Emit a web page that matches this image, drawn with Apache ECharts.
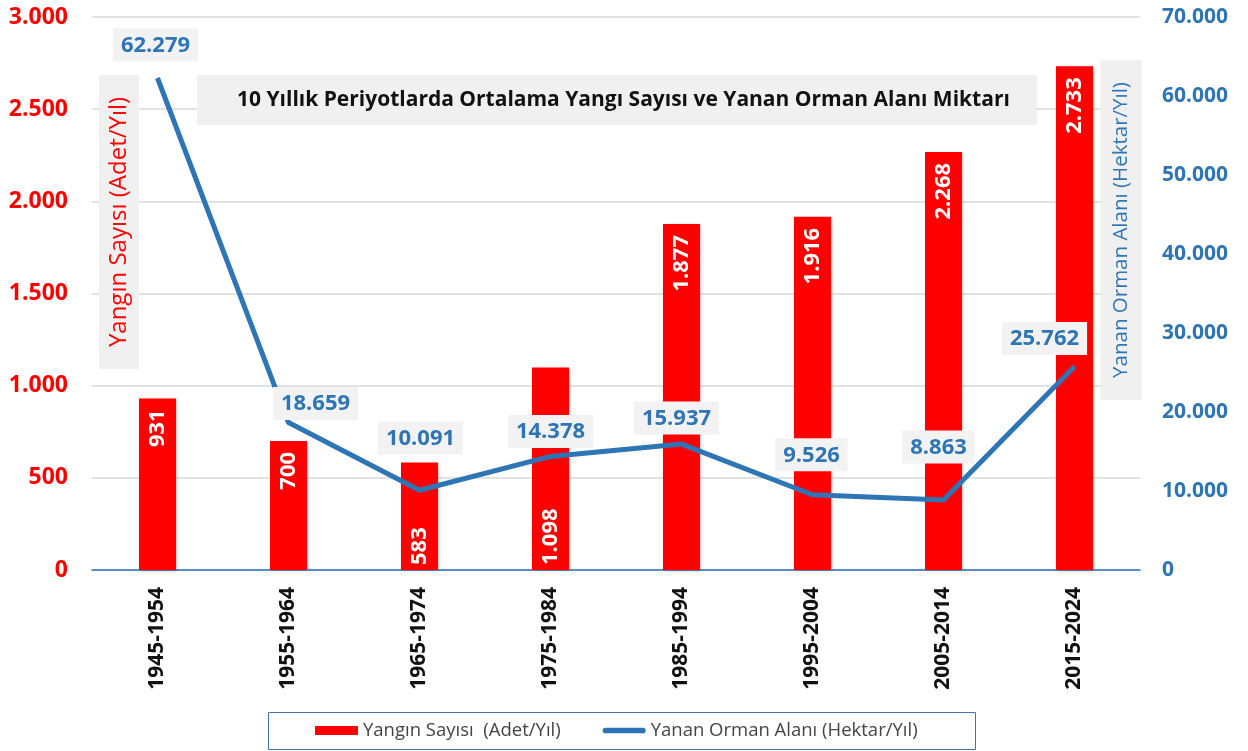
<!DOCTYPE html>
<html>
<head>
<meta charset="utf-8">
<script src="https://cdn.jsdelivr.net/npm/echarts@6/dist/echarts.min.js"></script>
<style>
  html, body { margin: 0; padding: 0; background: #fff; }
  #main { width: 1248px; height: 751px; }
</style>
</head>
<body>
<div id="main"></div>
<script>
// periods
var periods = ['1945-1954', '1955-1964', '1965-1974', '1975-1984', '1985-1994', '1995-2004', '2005-2014', '2015-2024'];
// Yangın Sayısı (Adet/Yıl)
var fireCounts = [931, 700, 583, 1098, 1877, 1916, 2268, 2733];
// Yanan Orman Alanı (Hektar/Yıl)
var burnedArea = [62279, 18659, 10091, 14378, 15937, 9526, 8863, 25762];

var leftTicks = { min: 0, max: 3000, interval: 500 };
var rightTicks = { min: 0, max: 70000, interval: 10000 };

var RED = '#ff0000';
var BLUE = '#2e75b6';
var FONT = '"Open Sans", Lato, sans-serif';

// 1.234 seklinde yaz
function fmt(v) {
    return String(Math.round(v)).replace(/\B(?=(\d{3})+(?!\d))/g, '.');
}

var chart = echarts.init(document.getElementById('main'));

// bar etiketleri: ikisi altta duruyor
var barData = fireCounts.map(function (v, i) {
    var item = { value: v };
    if (i === 2 || i === 3) {
        item.label = { position: 'insideBottom', align: 'left', distance: 5 };
    }
    return item;
});

// cizgi etiketleri icin kucuk kaydirmalar
var lineOffsets = { 0: [-2, 0], 1: [27, 14], 2: [1, -19], 3: [0, 8], 4: [-5, 7], 5: [-1, -7], 6: [-5, -20], 7: [-30, 5] };
var lineData = burnedArea.map(function (v, i) {
    var item = { value: v };
    if (lineOffsets[i]) {
        item.label = { offset: lineOffsets[i] };
    }
    return item;
});

var option = {
    backgroundColor: '#fff',
    animation: false,
    textStyle: { fontFamily: FONT },
    title: {
        text: '10 Yıllık Periyotlarda Ortalama Yangı Sayısı ve Yanan Orman Alanı Miktarı',
        left: 197,
        top: 75,
        backgroundColor: '#f0f0f0',
        padding: [13, 27, 13, 40],
        textStyle: { fontFamily: FONT, fontSize: 21, fontWeight: 'bold', color: '#111', lineHeight: 24 }
    },
    legend: {
        left: 315,
        top: 721,
        padding: 0,
        itemGap: 42,
        itemWidth: 43,
        itemHeight: 9,
        textStyle: { fontFamily: FONT, fontSize: 18.5, color: '#444' },
        data: [
            { name: 'Yangın Sayısı  (Adet/Yıl)', icon: 'rect' },
            {
                name: 'Yanan Orman Alanı (Hektar/Yıl)',
                icon: 'path://M3,0 L42,0 A3,3 0 0 1 42,6 L3,6 A3,3 0 0 1 3,0 Z',
                itemStyle: { color: BLUE }
            }
        ]
    },
    grid: { left: 92, right: 108, top: 17, bottom: 181 },
    xAxis: {
        type: 'category',
        data: periods,
        axisLine: { lineStyle: { color: BLUE, width: 1.5 } },
        axisTick: { show: false },
        axisLabel: {
            rotate: 90,
            margin: 17,
            fontFamily: FONT,
            fontSize: 21,
            fontWeight: 'bold',
            color: '#111',
            interval: 0
        }
    },
    yAxis: [
        {
            type: 'value',
            min: leftTicks.min,
            max: leftTicks.max,
            interval: leftTicks.interval,
            axisLine: { show: false },
            axisTick: { show: false },
            splitLine: { lineStyle: { color: '#d9d9d9', width: 1.5 } },
            axisLabel: {
                margin: 24,
                fontFamily: FONT,
                fontSize: 23,
                fontWeight: 'bold',
                color: RED,
                formatter: fmt
            }
        },
        {
            type: 'value',
            min: rightTicks.min,
            max: rightTicks.max,
            interval: rightTicks.interval,
            axisLine: { show: false },
            axisTick: { show: false },
            splitLine: { show: false },
            axisLabel: {
                margin: 22,
                fontFamily: FONT,
                fontSize: 21,
                fontWeight: 'bold',
                color: BLUE,
                formatter: fmt
            }
        }
    ],
    graphic: [
        {
            type: 'rect',
            shape: { x: 268.5, y: 712.5, width: 707, height: 37 },
            style: { fill: 'none', stroke: '#4a6fa5', lineWidth: 1 }
        },
        {
            type: 'text',
            x: 119,
            y: 222,
            rotation: Math.PI / 2,
            z: 10,
            style: {
                text: 'Yangın Sayısı (Adet/Yıl)',
                fill: RED,
                font: '24px ' + FONT,
                align: 'center',
                verticalAlign: 'middle',
                backgroundColor: '#f0f0f0',
                padding: [8, 22, 8, 22]
            }
        },
        {
            type: 'text',
            x: 1121,
            y: 230,
            rotation: Math.PI / 2,
            z: 10,
            style: {
                text: 'Yanan Orman Alanı (Hektar/Yıl)',
                fill: BLUE,
                font: '20.5px ' + FONT,
                align: 'center',
                verticalAlign: 'middle',
                backgroundColor: '#f0f0f0',
                padding: [10, 22, 10, 22]
            }
        }
    ],
    series: [
        {
            name: 'Yangın Sayısı  (Adet/Yıl)',
            type: 'bar',
            yAxisIndex: 0,
            barWidth: 37,
            data: barData,
            itemStyle: {
                color: RED,
                shadowColor: 'rgba(0,0,0,0.25)',
                shadowBlur: 3,
                shadowOffsetX: 1,
                shadowOffsetY: 1
            },
            label: {
                show: true,
                position: 'insideTop',
                rotate: 90,
                align: 'right',
                verticalAlign: 'middle',
                distance: 11,
                fontFamily: FONT,
                fontSize: 22,
                fontWeight: 'bold',
                color: '#fff',
                formatter: function (p) { return fmt(p.value); }
            }
        },
        {
            name: 'Yanan Orman Alanı (Hektar/Yıl)',
            type: 'line',
            yAxisIndex: 1,
            data: lineData,
            showSymbol: true,
            symbol: 'circle',
            symbolSize: 1,
            z: 5,
            lineStyle: { color: BLUE, width: 5 },
            itemStyle: { color: BLUE },
            label: {
                show: true,
                position: 'top',
                distance: 16,
                fontFamily: FONT,
                fontSize: 22,
                fontWeight: 'bold',
                color: BLUE,
                backgroundColor: '#f2f2f2',
                padding: [6, 8, 5, 8],
                formatter: function (p) { return fmt(p.value); }
            }
        }
    ]
};

chart.setOption(option);
</script>
</body>
</html>
